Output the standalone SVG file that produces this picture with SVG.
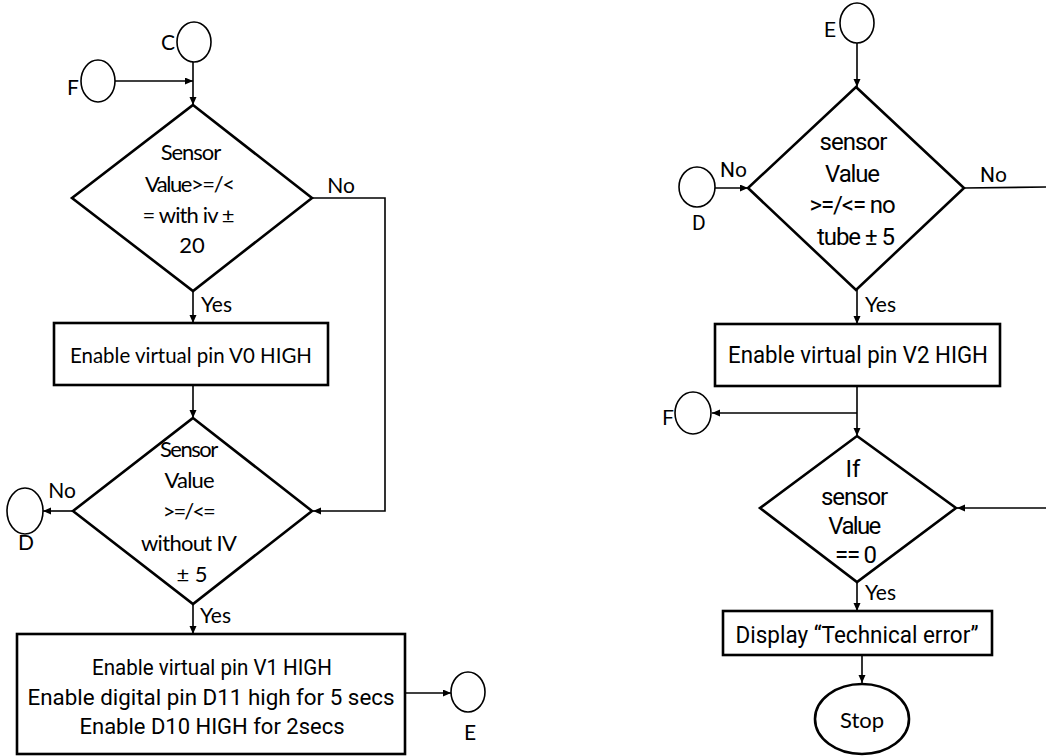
<svg xmlns="http://www.w3.org/2000/svg" width="1046" height="756" viewBox="0 0 1046 756">
<style>
.sh{fill:#fff;stroke:#000;stroke-width:2.6}
.ci{fill:#fff;stroke:#000;stroke-width:1.6}
.cn{fill:none;stroke:#000;stroke-width:1.6}
.ca{font-family:Lato,"Open Sans",sans-serif;fill:#000}
.ro{font-family:Roboto,"Liberation Sans",sans-serif;fill:#000}
.m{text-anchor:middle}
</style>
<defs>
<marker id="ar" markerUnits="userSpaceOnUse" markerWidth="9" markerHeight="8" refX="8" refY="3.5" orient="auto">
<path d="M0,0 L8,3.5 L0,7 z" fill="#000"/>
</marker>
</defs>
<rect width="1046" height="756" fill="#fff"/>
<g id="connectors">
<line class="cn" x1="115" y1="81" x2="193" y2="81" marker-end="url(#ar)"/>
<line class="cn" x1="193" y1="62" x2="193" y2="105" marker-end="url(#ar)"/>
<polyline class="cn" points="312,198 385,198 385,511 313,511" marker-end="url(#ar)"/>
<line class="cn" x1="193" y1="291" x2="193" y2="323" marker-end="url(#ar)"/>
<line class="cn" x1="193" y1="385" x2="193" y2="418" marker-end="url(#ar)"/>
<line class="cn" x1="73" y1="511" x2="43" y2="511" marker-end="url(#ar)"/>
<line class="cn" x1="193" y1="604" x2="193" y2="634" marker-end="url(#ar)"/>
<line class="cn" x1="405" y1="693" x2="451" y2="693" marker-end="url(#ar)"/>
<line class="cn" x1="857" y1="43" x2="857" y2="87" marker-end="url(#ar)"/>
<line class="cn" x1="715" y1="188" x2="748" y2="188" marker-end="url(#ar)"/>
<line class="cn" x1="964" y1="188" x2="1046" y2="187"/>
<line class="cn" x1="857" y1="290" x2="857" y2="324" marker-end="url(#ar)"/>
<line class="cn" x1="857" y1="386" x2="857" y2="436" marker-end="url(#ar)"/>
<line class="cn" x1="857" y1="413" x2="712" y2="413" marker-end="url(#ar)"/>
<line class="cn" x1="1046" y1="508" x2="957" y2="508" marker-end="url(#ar)"/>
<line class="cn" x1="857" y1="582" x2="857" y2="611" marker-end="url(#ar)"/>
<line class="cn" x1="862" y1="655" x2="862" y2="683" marker-end="url(#ar)"/>
<text class="ca m" x="341" y="193" font-size="21">No</text>
<text class="ca" x="201" y="312" font-size="21">Yes</text>
<text class="ca m" x="62" y="498" font-size="21">No</text>
<text class="ca" x="200" y="623" font-size="21">Yes</text>
<text class="ro" x="720" y="177" font-size="21">No</text>
<text class="ro" x="980" y="182" font-size="21">No</text>
<text class="ca" x="865" y="312" font-size="21">Yes</text>
<text class="ca" x="865" y="600" font-size="21">Yes</text>
</g>
<g id="C">
<ellipse class="ci" cx="194" cy="42" rx="17" ry="20"/>
<text class="ca m" x="168" y="50" font-size="21">C</text>
</g>
<g id="F1">
<ellipse class="ci" cx="98" cy="81" rx="17" ry="21"/>
<text class="ca m" x="73" y="95" font-size="21">F</text>
</g>
<g id="d1">
<polygon class="sh" points="193,105 312,198 193,291 72,198"/>
<text class="ca m" font-size="22" lengthAdjust="spacingAndGlyphs">
<tspan x="193" y="160" textLength="60">Sensor</tspan>
<tspan x="192" y="192" textLength="90">Value&gt;=/&lt;</tspan>
<tspan x="191" y="223" textLength="92">= with iv ±</tspan>
<tspan x="192" y="253">20</tspan>
</text>
</g>
<g id="r1">
<rect class="sh" x="54" y="323" width="274" height="62"/>
<text class="ca m" x="191" y="363" font-size="22" textLength="242" lengthAdjust="spacingAndGlyphs">Enable virtual pin V0 HIGH</text>
</g>
<g id="d2">
<polygon class="sh" points="193,418 312,511 193,604 73,511"/>
<text class="ca m" font-size="22" lengthAdjust="spacingAndGlyphs">
<tspan x="191" y="457" textLength="58">Sensor</tspan>
<tspan x="192" y="488" textLength="50">Value</tspan>
<tspan x="191" y="519" textLength="53">&gt;=/&lt;=</tspan>
<tspan x="191" y="551" textLength="95">without IV</tspan>
<tspan x="192" y="582">± 5</tspan>
</text>
</g>
<g id="D1">
<ellipse class="ci" cx="25" cy="511" rx="18" ry="23"/>
<text class="ca m" x="26" y="550" font-size="21">D</text>
</g>
<g id="r3">
<rect class="sh" x="17" y="634" width="388" height="120"/>
<text class="ro m" x="212" y="675" font-size="22" textLength="240" lengthAdjust="spacingAndGlyphs">Enable virtual pin V1 HIGH</text>
<text class="ro m" x="211" y="705" font-size="22" textLength="367" lengthAdjust="spacingAndGlyphs">Enable digital pin D11 high for 5 secs</text>
<text class="ro m" x="212" y="734" font-size="22" textLength="265" lengthAdjust="spacingAndGlyphs">Enable D10 HIGH for 2secs</text>
</g>
<g id="E1">
<ellipse class="ci" cx="468" cy="692" rx="17" ry="20"/>
<text class="ca m" x="470" y="740" font-size="21">E</text>
</g>
<g id="E2">
<ellipse class="ci" cx="857" cy="23" rx="17" ry="20"/>
<text class="ro m" x="830" y="37" font-size="21">E</text>
</g>
<g id="d3">
<polygon class="sh" points="856,87 964,188 856,290 748,188"/>
<text class="ro m" font-size="24" lengthAdjust="spacingAndGlyphs">
<tspan x="856" y="150" textLength="68">sensor</tspan>
<tspan x="855" y="182" textLength="55">Value</tspan>
<tspan x="855" y="213" textLength="86">&gt;=/&lt;= no</tspan>
<tspan x="856" y="245" textLength="78">tube ± 5</tspan>
</text>
</g>
<g id="D2">
<ellipse class="ci" cx="697" cy="187" rx="18" ry="20"/>
<text class="ro m" x="699" y="230" font-size="21">D</text>
</g>
<g id="r2">
<rect class="sh" x="715" y="324" width="285" height="62"/>
<text class="ro m" x="858" y="363" font-size="24" textLength="260" lengthAdjust="spacingAndGlyphs">Enable virtual pin V2 HIGH</text>
</g>
<g id="F2">
<ellipse class="ci" cx="693" cy="413" rx="18" ry="21"/>
<text class="ro m" x="668" y="425" font-size="21">F</text>
</g>
<g id="d4">
<polygon class="sh" points="857,436 956,508 857,582 760,508"/>
<text class="ro m" font-size="24" lengthAdjust="spacingAndGlyphs">
<tspan x="856" y="477">If</tspan>
<tspan x="857" y="505" textLength="67">sensor</tspan>
<tspan x="857" y="534" textLength="53">Value</tspan>
<tspan x="856" y="563" textLength="42">== 0</tspan>
</text>
</g>
<g id="r4">
<rect class="sh" x="723" y="611" width="269" height="44"/>
<text class="ro m" x="857" y="643" font-size="24" textLength="243" lengthAdjust="spacingAndGlyphs">Display “Technical error”</text>
</g>
<g id="stop">
<ellipse class="sh" cx="862" cy="719" rx="47" ry="35"/>
<text class="ca m" x="862" y="728" font-size="22">Stop</text>
</g>
</svg>
